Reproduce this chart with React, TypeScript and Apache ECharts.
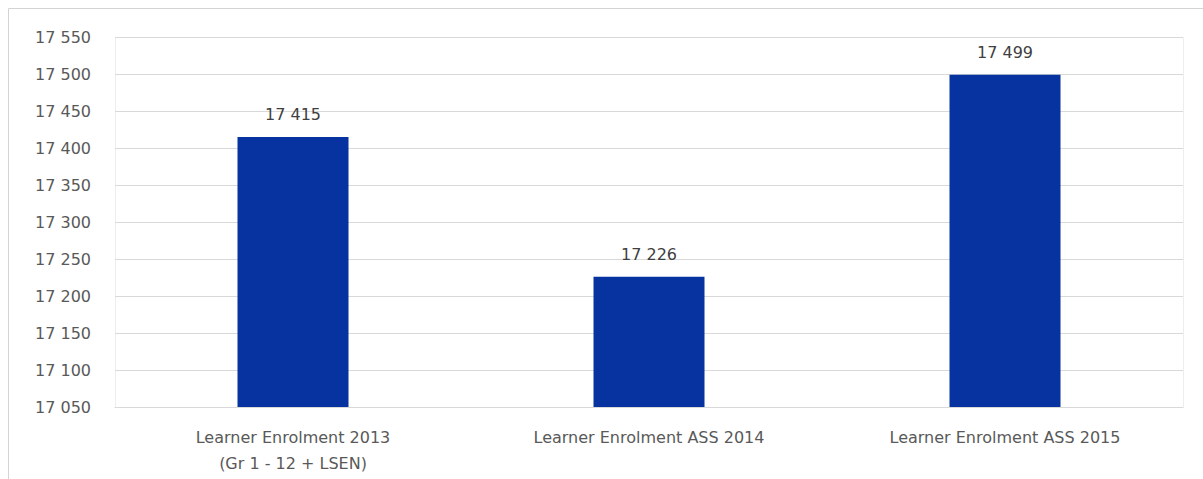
import React, { useEffect, useRef } from "react";
import * as echarts from "echarts";

const categories = [
  "Learner Enrolment 2013\n(Gr 1 - 12 + LSEN)",
  "Learner Enrolment ASS 2014",
  "Learner Enrolment ASS 2015",
];
const values = [17415, 17226, 17499];
const yMin = 17050;
const yMax = 17550;
const yStep = 50;

const fmt = (v: number) => {
  const s = String(Math.round(v));
  return s.replace(/\B(?=(\d{3})+(?!\d))/g, " ");
};

const FONT = "DejaVu Sans";

export default function App() {
  const ref = useRef<HTMLDivElement>(null);
  useEffect(() => {
    if (!ref.current) return;
    const chart = echarts.init(ref.current, undefined, { renderer: "svg" });
    chart.setOption({
      animation: false,
      backgroundColor: "#ffffff",
      graphic: [
        {
          type: "rect",
          shape: { x: 8.5, y: 8.5, width: 1210, height: 480 },
          style: { fill: "none", stroke: "#d4d4d4", lineWidth: 1 },
          silent: true,
        },
        {
          type: "rect",
          shape: { x: 115.5, y: 37.5, width: 1068, height: 370 },
          style: { fill: "none", stroke: "#eeeeee", lineWidth: 1 },
          silent: true,
          z: -1,
        },
      ],
      grid: { left: 115, right: 20, top: 37, bottom: 72 },
      xAxis: {
        type: "category",
        data: categories,
        axisTick: { show: false },
        axisLine: { show: true, lineStyle: { color: "#d9d9d9" } },
        axisLabel: {
          color: "#595959",
          fontFamily: FONT,
          fontSize: 16,
          lineHeight: 26,
          margin: 17,
        },
      },
      yAxis: {
        type: "value",
        min: yMin,
        max: yMax,
        interval: yStep,
        axisLine: { show: false },
        axisTick: { show: false },
        splitLine: { lineStyle: { color: "#d9d9d9" } },
        axisLabel: {
          color: "#595959",
          fontFamily: FONT,
          fontSize: 16,
          margin: 24,
          formatter: (v: number) => fmt(v),
        },
      },
      series: [
        {
          type: "bar",
          data: values,
          barWidth: 111,
          itemStyle: { color: "#0633a0" },
          label: {
            show: true,
            position: "top",
            distance: 14,
            color: "#404040",
            fontFamily: FONT,
            fontSize: 16,
            formatter: (p: any) => fmt(p.value),
          },
        },
      ],
    });
    return () => chart.dispose();
  }, []);
  return (
    <div
      ref={ref}
      style={{ position: "fixed", left: 0, top: 0, width: 1203, height: 479 }}
    />
  );
}
